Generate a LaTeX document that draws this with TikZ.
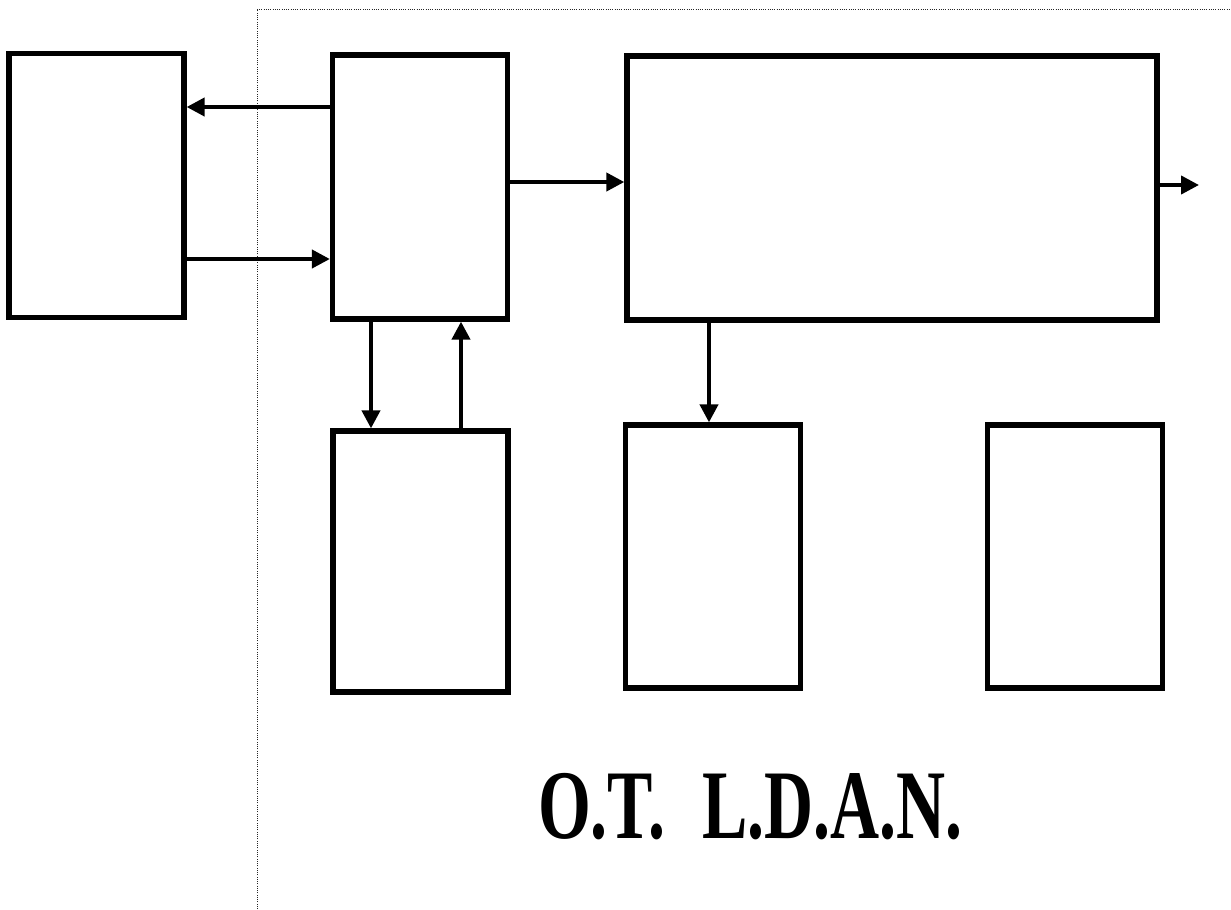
\documentclass[tikz,border=0pt]{standalone}
\usepackage{fontspec}
\setmainfont{Liberation Serif}
\usetikzlibrary{arrows.meta}
\begin{document}
\begin{tikzpicture}[
  x=0.025cm, y=-0.025cm,
  block/.style={rectangle, draw, line width=0.13cm, minimum width=4.375cm, minimum height=6.6cm, inner sep=0pt},
  link/.style={-{Triangle[length=0.45cm,width=0.45cm]}, line width=0.1cm},
  frame/.style={densely dotted, line width=0.6pt, black!85}
]
\useasboundingbox (0,0) rectangle (1231,909);

\node[block] (host) at (96.5,185.5) {};
\node[block] (ctrl) at (420,187) {};
\node[block, minimum width=13.25cm] (proc) at (892,188) {};
\node[block, minimum height=6.525cm] (memory) at (420.5,561.5) {};
\node[block, minimum height=6.575cm] (unitl) at (713,556.5) {};
\node[block, minimum height=6.575cm] (unitr) at (1075,556.5) {};
\coordinate (out) at (1199,185);

\node[anchor=base, inner sep=0pt, font=\fontsize{70}{80}\selectfont\bfseries] (title) at (750.5,838)
  {\scalebox{0.69}[1]{O.T.\hspace{0.55em}L.D.A.N.}};

\draw[frame] (257,909) -- (257,9) -- (1231,9);

\draw[link] (ctrl.west |- 0,107) -- (host.east |- 0,107);
\draw[link] (host.east |- 0,259) -- (ctrl.west |- 0,259);
\draw[link] (ctrl.east |- 0,182) -- (proc.west |- 0,182);
\draw[link] (proc.east |- out) -- (out);
\draw[link] (ctrl.south -| 371,0) -- (memory.north -| 371,0);
\draw[link] (memory.north -| 461,0) -- (ctrl.south -| 461,0);
\draw[link] (proc.south -| 709,0) -- (unitl.north -| 709,0);
\end{tikzpicture}
\end{document}
